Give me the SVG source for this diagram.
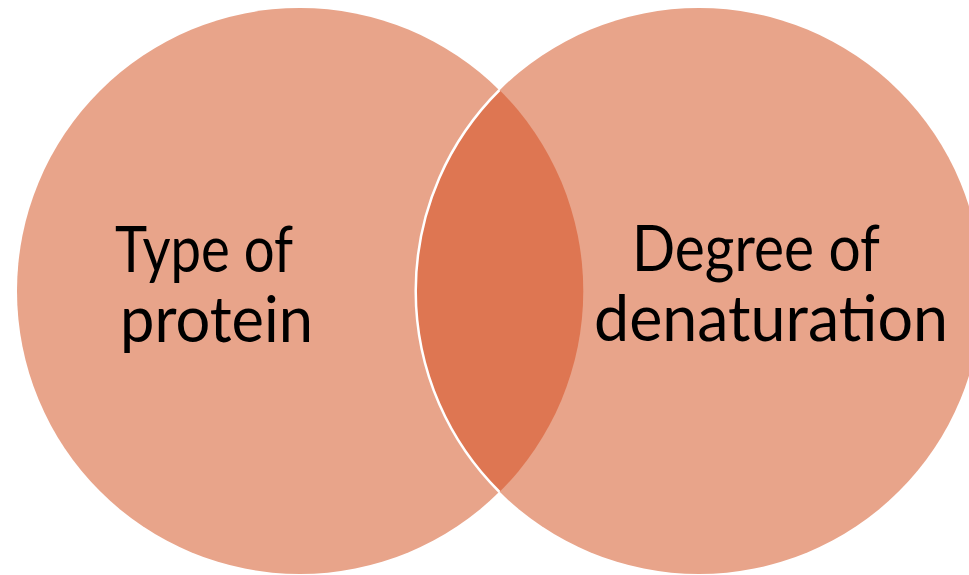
<svg xmlns="http://www.w3.org/2000/svg" width="969" height="575" viewBox="0 0 969 575">
<style>
.circ{fill:#E8A48A}
.lens{fill:#DE7652}
.edge{fill:none;stroke:#FFFFFF;stroke-width:2.5}
.lbl{font-family:Lato,"Open Sans","Liberation Sans",sans-serif;font-size:63px;fill:#000000}
</style>
<g id="left-circle">
<circle class="circ" cx="300" cy="291" r="283"/>
</g>
<g id="right-circle">
<circle class="circ" cx="699" cy="291" r="283"/>
</g>
<g id="overlap">
<path class="lens" d="M499.5,90 A283,283 0 0 0 499.5,492 A283,283 0 0 0 499.5,90 Z"/>
<path class="edge" d="M499.5,90 A283,283 0 0 0 499.5,492"/>
</g>
<g id="label-left">
<text class="lbl" x="115" y="272" textLength="178" lengthAdjust="spacingAndGlyphs">Type of</text>
<text class="lbl" x="120" y="342" textLength="193" lengthAdjust="spacingAndGlyphs">protein</text>
</g>
<g id="label-right">
<text class="lbl" x="632" y="271" textLength="248" lengthAdjust="spacingAndGlyphs">Degree of</text>
<text class="lbl" x="594" y="341" textLength="354" lengthAdjust="spacingAndGlyphs">denaturation</text>
</g>
</svg>
